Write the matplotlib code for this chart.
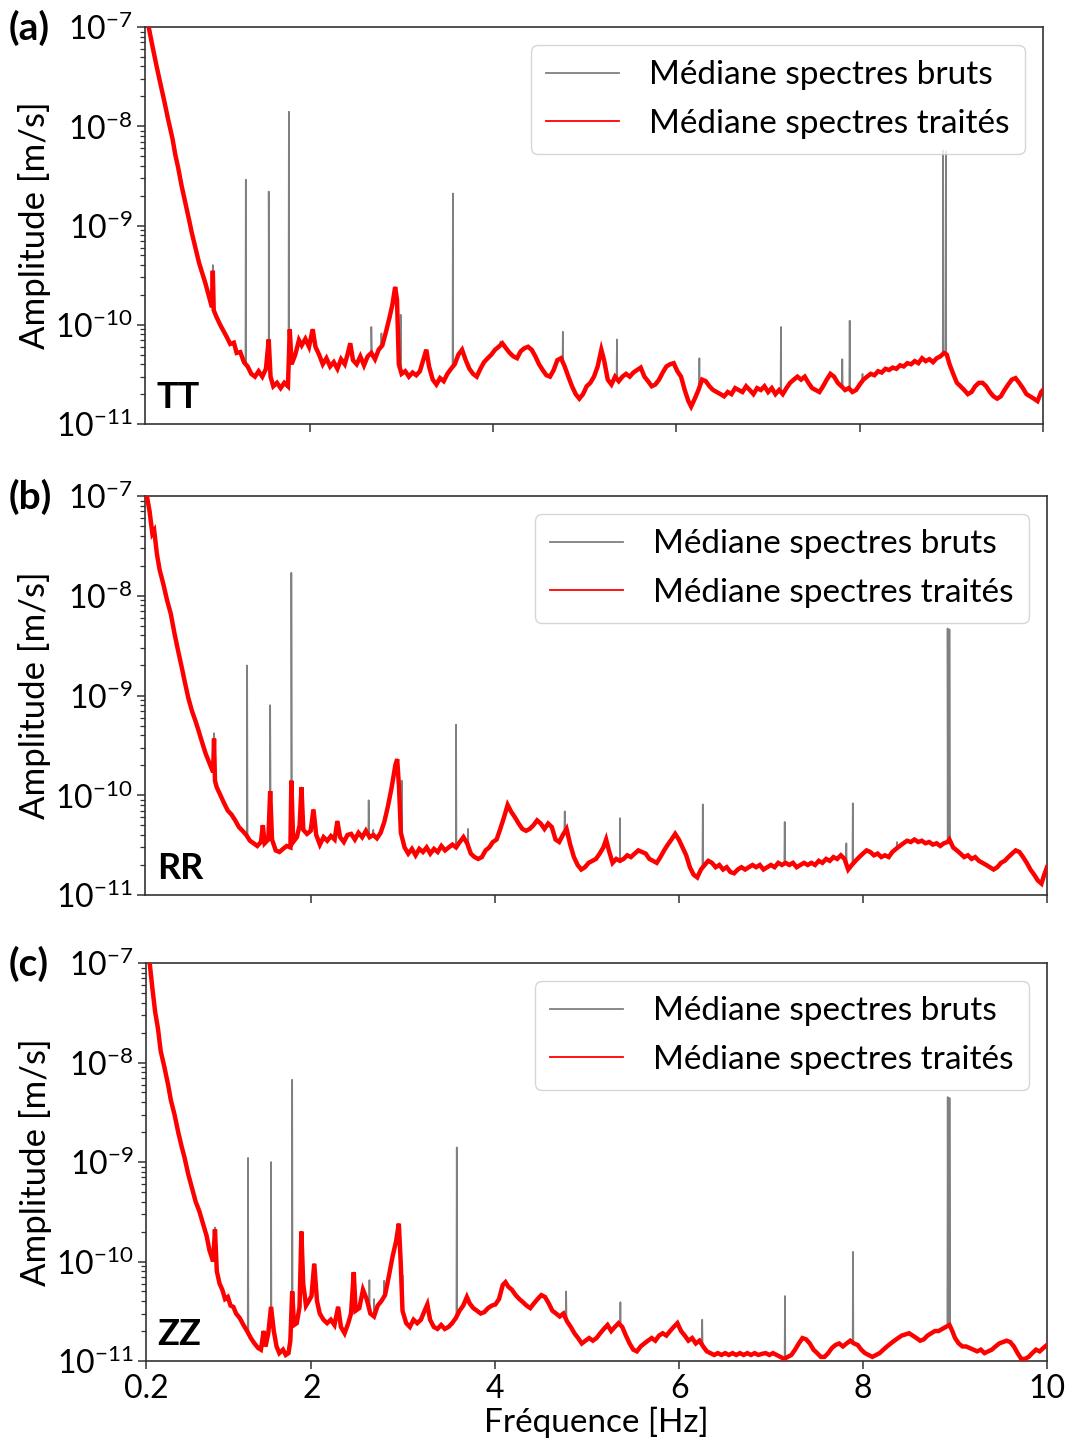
import numpy as np
import matplotlib
matplotlib.use("Agg")
import matplotlib.pyplot as plt

plt.rcParams['font.family'] = ['Lato', 'DejaVu Sans']
plt.rcParams['mathtext.fontset'] = 'custom'
plt.rcParams['mathtext.rm'] = 'Lato'
plt.rcParams['mathtext.it'] = 'Lato:italic'
plt.rcParams['mathtext.bf'] = 'Lato:bold'

UNIT = 1e-11  # amplitudes below are in units of 1e-11 m/s

# ---------------- (a) TT : processed median spectrum (freq Hz, amplitude) ----------------
tt_red = [
    (0.20, 16000), (0.24, 10000), (0.28, 6500), (0.32, 4300), (0.36, 2900), (0.41, 1800),
    (0.45, 1200), (0.50, 750), (0.53, 520), (0.56, 390), (0.60, 250), (0.64, 170),
    (0.68, 115), (0.71, 85), (0.75, 60), (0.79, 42), (0.83, 32), (0.86, 26), (0.90, 19),
    (0.93, 15), (0.94, 35), (0.95, 14), (0.98, 12), (1.02, 10), (1.05, 8.9), (1.09, 7.6),
    (1.13, 6.4), (1.17, 6.6), (1.20, 5.2), (1.24, 5.3), (1.28, 4.2), (1.32, 3.8), (1.36, 3.2),
    (1.40, 3.0), (1.44, 3.4), (1.48, 3.0), (1.52, 3.6), (1.55, 7.1), (1.57, 3.0), (1.60, 2.4),
    (1.64, 2.6), (1.68, 2.3), (1.72, 2.6), (1.76, 2.4), (1.78, 9.0), (1.80, 4.0), (1.84, 5.0),
    (1.88, 7.0), (1.91, 6.2), (1.95, 7.2), (1.99, 6.0), (2.03, 9.0), (2.06, 6.0), (2.10, 5.0),
    (2.14, 4.0), (2.18, 4.6), (2.22, 3.8), (2.26, 4.2), (2.30, 3.6), (2.34, 4.5), (2.38, 4.0),
    (2.41, 5.0), (2.44, 6.5), (2.47, 4.4), (2.51, 4.0), (2.55, 4.8), (2.59, 3.9), (2.63, 4.8),
    (2.67, 5.2), (2.71, 4.5), (2.75, 5.6), (2.79, 6.2), (2.83, 8.5), (2.87, 12), (2.90, 16),
    (2.93, 24), (2.95, 18), (2.97, 4.0), (3.00, 3.2), (3.04, 3.4), (3.08, 3.0), (3.12, 3.3),
    (3.16, 3.1), (3.20, 3.4), (3.24, 4.5), (3.27, 5.6), (3.30, 3.8), (3.34, 2.8), (3.38, 2.5),
    (3.42, 2.9), (3.46, 2.7), (3.50, 3.2), (3.54, 3.6), (3.58, 4.0), (3.62, 5.0), (3.66, 5.6),
    (3.70, 4.4), (3.74, 3.6), (3.78, 3.2), (3.82, 3.0), (3.86, 3.6), (3.90, 4.2), (3.94, 4.6),
    (3.98, 5.0), (4.02, 5.6), (4.06, 6.0), (4.10, 6.5), (4.14, 5.8), (4.18, 5.2), (4.22, 4.8),
    (4.26, 4.6), (4.30, 5.4), (4.34, 5.8), (4.38, 6.0), (4.42, 5.6), (4.46, 4.8), (4.50, 4.0),
    (4.54, 3.5), (4.58, 3.1), (4.62, 3.0), (4.66, 3.5), (4.70, 4.4), (4.74, 4.6), (4.78, 3.8),
    (4.82, 3.0), (4.86, 2.4), (4.90, 2.0), (4.94, 1.8), (4.98, 2.0), (5.02, 2.4), (5.06, 2.6),
    (5.10, 3.0), (5.14, 3.8), (5.18, 5.6), (5.21, 4.4), (5.25, 2.8), (5.29, 2.5), (5.33, 3.0),
    (5.37, 2.7), (5.41, 3.0), (5.45, 3.2), (5.49, 3.0), (5.53, 3.3), (5.57, 3.5), (5.61, 3.7),
    (5.65, 3.0), (5.69, 2.7), (5.73, 2.4), (5.77, 2.5), (5.81, 2.8), (5.85, 3.3), (5.89, 3.8),
    (5.93, 4.0), (5.97, 4.1), (6.01, 3.4), (6.05, 3.0), (6.09, 2.2), (6.13, 1.7), (6.16, 1.5),
    (6.20, 1.8), (6.24, 2.2), (6.28, 2.8), (6.32, 2.7), (6.36, 2.4), (6.40, 2.2), (6.44, 2.1),
    (6.48, 2.0), (6.52, 1.9), (6.56, 2.1), (6.60, 2.0), (6.64, 2.3), (6.68, 2.2), (6.72, 2.1),
    (6.76, 2.4), (6.80, 2.2), (6.84, 2.0), (6.88, 2.3), (6.92, 2.2), (6.96, 2.4), (7.00, 2.1),
    (7.04, 2.3), (7.08, 2.0), (7.12, 2.2), (7.16, 2.0), (7.20, 2.3), (7.24, 2.6), (7.28, 2.8),
    (7.32, 3.0), (7.36, 2.8), (7.40, 3.0), (7.44, 2.6), (7.48, 2.3), (7.52, 2.2), (7.56, 2.1),
    (7.60, 2.4), (7.64, 2.8), (7.68, 3.2), (7.72, 3.0), (7.76, 2.6), (7.80, 2.4), (7.84, 2.2),
    (7.88, 2.3), (7.92, 2.1), (7.96, 2.2), (8.00, 2.5), (8.04, 2.8), (8.08, 3.0), (8.12, 3.2),
    (8.16, 3.1), (8.20, 3.4), (8.24, 3.3), (8.28, 3.6), (8.32, 3.5), (8.36, 3.7), (8.40, 3.6),
    (8.44, 3.9), (8.48, 3.8), (8.52, 4.1), (8.56, 4.0), (8.60, 4.3), (8.64, 4.1), (8.68, 4.6),
    (8.72, 4.3), (8.76, 4.5), (8.80, 4.2), (8.84, 4.6), (8.88, 4.8), (8.92, 5.2), (8.95, 5.0),
    (8.98, 4.0), (9.02, 3.2), (9.06, 2.6), (9.10, 2.4), (9.14, 2.2), (9.18, 2.0), (9.22, 2.1),
    (9.26, 2.4), (9.30, 2.6), (9.34, 2.6), (9.38, 2.4), (9.42, 2.1), (9.46, 1.9), (9.50, 1.8),
    (9.54, 1.9), (9.58, 2.2), (9.62, 2.5), (9.66, 2.8), (9.70, 2.9), (9.74, 2.6), (9.78, 2.3),
    (9.82, 2.0), (9.86, 1.9), (9.90, 1.8), (9.94, 1.7), (9.98, 2.1), (10.0, 2.2),
]
# raw-spectrum spikes (freq Hz, peak amplitude)
tt_spikes = [(0.94, 40), (1.30, 290), (1.55, 220), (1.77, 1400), (2.67, 9.5), (2.78, 8.2),
             (2.99, 12.6), (3.56, 210), (4.08, 6.8), (4.76, 8.5), (5.35, 7.1), (6.25, 4.6),
             (7.14, 9.5), (7.81, 4.5), (7.89, 11), (8.03, 3.2), (8.91, 570), (8.94, 560)]

# ---------------- (b) RR ----------------
rr_red = [
    (0.20, 16000), (0.22, 10000), (0.25, 7000), (0.28, 4200), (0.30, 4500), (0.33, 2600),
    (0.36, 1800), (0.40, 1300), (0.44, 900), (0.48, 660), (0.52, 420), (0.56, 280), (0.60, 190),
    (0.63, 140), (0.67, 95), (0.71, 70), (0.75, 55), (0.78, 45), (0.82, 34), (0.86, 26),
    (0.90, 21), (0.94, 17), (0.95, 37), (0.96, 14), (0.98, 12), (1.02, 10), (1.06, 8.3),
    (1.10, 7.0), (1.14, 6.4), (1.18, 5.6), (1.22, 4.8), (1.26, 4.4), (1.30, 4.0), (1.34, 3.5),
    (1.38, 3.3), (1.42, 3.1), (1.46, 3.4), (1.48, 5.0), (1.50, 3.3), (1.54, 3.6), (1.56, 11),
    (1.58, 3.6), (1.62, 2.8), (1.66, 2.7), (1.70, 2.9), (1.74, 3.1), (1.78, 3.0), (1.79, 14),
    (1.81, 3.4), (1.85, 3.8), (1.88, 5.0), (1.90, 12), (1.92, 4.5), (1.96, 4.1), (2.00, 4.4),
    (2.03, 7.2), (2.06, 4.0), (2.10, 3.2), (2.14, 3.8), (2.18, 3.5), (2.22, 3.9), (2.26, 3.6),
    (2.29, 5.5), (2.32, 3.8), (2.36, 3.4), (2.40, 4.0), (2.44, 4.1), (2.48, 3.6), (2.52, 4.2),
    (2.56, 3.8), (2.60, 4.4), (2.64, 3.8), (2.68, 4.0), (2.72, 3.7), (2.76, 4.2), (2.80, 5.4),
    (2.84, 7.8), (2.88, 12), (2.92, 20), (2.94, 23), (2.96, 12), (2.98, 4.2), (3.02, 3.0),
    (3.06, 2.6), (3.10, 2.9), (3.14, 2.5), (3.18, 2.9), (3.22, 2.7), (3.26, 3.0), (3.30, 2.6),
    (3.34, 2.9), (3.38, 2.7), (3.42, 3.1), (3.46, 2.8), (3.50, 3.0), (3.54, 3.2), (3.58, 3.0),
    (3.62, 3.4), (3.66, 3.8), (3.70, 3.3), (3.74, 2.6), (3.78, 2.4), (3.82, 2.3), (3.86, 2.4),
    (3.90, 2.8), (3.94, 3.0), (3.98, 3.4), (4.02, 3.6), (4.06, 4.6), (4.10, 6.0), (4.14, 8.0),
    (4.18, 6.8), (4.22, 6.0), (4.26, 5.2), (4.30, 4.6), (4.34, 4.4), (4.38, 4.6), (4.42, 5.0),
    (4.46, 5.6), (4.50, 5.2), (4.54, 4.6), (4.58, 5.2), (4.62, 4.8), (4.66, 3.6), (4.70, 3.4),
    (4.74, 4.0), (4.78, 4.6), (4.82, 3.2), (4.86, 2.4), (4.90, 2.0), (4.94, 1.8), (4.98, 1.9),
    (5.02, 2.1), (5.06, 2.2), (5.10, 2.3), (5.14, 2.6), (5.18, 3.0), (5.21, 3.6), (5.24, 2.8),
    (5.28, 2.1), (5.32, 2.3), (5.36, 2.2), (5.40, 2.3), (5.44, 2.5), (5.48, 2.4), (5.52, 2.6),
    (5.56, 2.8), (5.60, 2.7), (5.64, 2.6), (5.68, 2.3), (5.72, 2.2), (5.76, 2.1), (5.80, 2.4),
    (5.84, 2.8), (5.88, 3.2), (5.92, 3.6), (5.96, 4.1), (6.00, 3.6), (6.04, 3.0), (6.08, 2.5),
    (6.12, 1.9), (6.16, 1.6), (6.20, 1.5), (6.24, 1.8), (6.28, 2.0), (6.32, 2.2), (6.36, 2.1),
    (6.40, 1.9), (6.44, 2.0), (6.48, 1.8), (6.52, 1.9), (6.56, 1.7), (6.60, 1.65), (6.64, 1.8),
    (6.68, 1.9), (6.72, 1.8), (6.76, 1.9), (6.80, 2.0), (6.84, 1.9), (6.88, 2.0), (6.92, 1.8),
    (6.96, 1.9), (7.00, 2.0), (7.04, 1.9), (7.08, 2.1), (7.12, 2.0), (7.16, 2.1), (7.20, 2.0),
    (7.24, 2.1), (7.28, 1.9), (7.32, 2.0), (7.36, 2.1), (7.40, 2.0), (7.44, 2.1), (7.48, 2.0),
    (7.52, 2.2), (7.56, 2.1), (7.60, 2.3), (7.64, 2.2), (7.68, 2.4), (7.72, 2.3), (7.76, 2.5),
    (7.80, 2.3), (7.84, 1.8), (7.88, 2.0), (7.92, 2.2), (7.96, 2.4), (8.00, 2.6), (8.04, 2.8),
    (8.08, 2.7), (8.12, 2.5), (8.16, 2.6), (8.20, 2.4), (8.24, 2.5), (8.28, 2.4), (8.32, 2.7),
    (8.36, 2.9), (8.40, 3.1), (8.44, 3.3), (8.48, 3.5), (8.52, 3.4), (8.56, 3.6), (8.60, 3.4),
    (8.64, 3.5), (8.68, 3.3), (8.72, 3.4), (8.76, 3.2), (8.80, 3.3), (8.84, 3.1), (8.88, 3.3),
    (8.92, 3.4), (8.94, 3.6), (8.98, 3.0), (9.02, 2.8), (9.06, 2.6), (9.10, 2.4), (9.14, 2.5),
    (9.18, 2.3), (9.22, 2.4), (9.26, 2.2), (9.30, 2.1), (9.34, 2.0), (9.38, 1.9), (9.42, 1.8),
    (9.46, 1.9), (9.50, 2.1), (9.54, 2.2), (9.58, 2.4), (9.62, 2.6), (9.66, 2.8), (9.70, 2.7),
    (9.74, 2.4), (9.78, 2.1), (9.82, 1.8), (9.86, 1.6), (9.90, 1.4), (9.94, 1.3), (9.97, 1.6),
    (10.0, 1.9),
]
rr_spikes = [(0.95, 42), (1.31, 200), (1.56, 80), (1.79, 1700), (2.63, 8.9), (2.68, 4.5),
             (2.99, 14), (3.58, 51), (3.71, 4.6), (4.76, 6.9), (5.36, 5.9), (6.26, 8.1),
             (7.15, 5.4), (7.82, 3.3), (7.89, 8.3), (8.37, 3.4), (8.92, 470), (8.94, 460)]

# ---------------- (c) ZZ ----------------
zz_red = [
    (0.20, 16000), (0.24, 10000), (0.27, 5500), (0.30, 3200), (0.33, 2200), (0.36, 1300),
    (0.40, 900), (0.44, 600), (0.47, 420), (0.51, 300), (0.55, 200), (0.59, 140), (0.62, 110),
    (0.66, 75), (0.70, 55), (0.74, 40), (0.78, 32), (0.82, 24), (0.86, 18), (0.89, 13),
    (0.93, 10), (0.95, 21), (0.97, 8.0), (1.00, 6.0), (1.03, 5.2), (1.06, 4.2), (1.09, 4.4),
    (1.12, 3.6), (1.15, 3.5), (1.18, 3.0), (1.22, 2.7), (1.26, 2.3), (1.30, 2.0), (1.34, 1.7),
    (1.38, 1.5), (1.42, 1.35), (1.45, 1.3), (1.48, 2.0), (1.50, 1.4), (1.53, 1.9), (1.56, 3.5),
    (1.59, 2.0), (1.62, 1.4), (1.65, 1.2), (1.69, 1.3), (1.72, 1.15), (1.75, 1.2), (1.77, 1.6),
    (1.79, 5.0), (1.81, 2.3), (1.84, 2.4), (1.87, 3.5), (1.89, 20), (1.91, 6.0), (1.94, 3.6),
    (1.97, 4.0), (2.00, 4.5), (2.03, 9.5), (2.06, 4.0), (2.09, 3.0), (2.13, 2.6), (2.17, 2.4),
    (2.21, 2.6), (2.25, 2.3), (2.29, 3.5), (2.32, 2.2), (2.36, 1.9), (2.40, 2.4), (2.43, 3.0),
    (2.46, 7.8), (2.48, 3.2), (2.52, 3.4), (2.56, 5.2), (2.60, 4.2), (2.64, 3.0), (2.68, 2.8),
    (2.72, 3.6), (2.76, 4.0), (2.80, 4.6), (2.84, 7.0), (2.88, 11), (2.92, 16), (2.95, 24),
    (2.97, 10), (2.99, 3.2), (3.03, 2.4), (3.07, 2.2), (3.11, 2.6), (3.15, 2.4), (3.19, 2.6),
    (3.23, 3.2), (3.26, 3.7), (3.29, 2.6), (3.33, 2.2), (3.37, 2.1), (3.41, 2.3), (3.45, 2.1),
    (3.49, 2.2), (3.53, 2.4), (3.57, 2.7), (3.61, 3.2), (3.65, 3.6), (3.69, 4.4), (3.72, 3.8),
    (3.76, 3.4), (3.80, 3.2), (3.84, 3.0), (3.88, 3.1), (3.92, 3.4), (3.96, 3.6), (4.00, 3.7),
    (4.04, 4.2), (4.08, 5.8), (4.11, 6.2), (4.14, 5.6), (4.18, 5.2), (4.22, 4.6), (4.26, 4.2),
    (4.30, 3.9), (4.34, 3.6), (4.38, 3.4), (4.42, 3.8), (4.46, 4.2), (4.50, 4.6), (4.54, 4.4),
    (4.58, 3.8), (4.62, 3.2), (4.66, 3.0), (4.70, 2.8), (4.74, 3.0), (4.78, 2.5), (4.82, 2.2),
    (4.86, 1.9), (4.90, 1.7), (4.94, 1.5), (4.98, 1.6), (5.02, 1.7), (5.06, 1.6), (5.10, 1.7),
    (5.14, 1.9), (5.18, 2.1), (5.22, 2.3), (5.26, 2.0), (5.30, 2.2), (5.34, 2.4), (5.38, 2.2),
    (5.42, 1.8), (5.46, 1.5), (5.50, 1.3), (5.54, 1.25), (5.58, 1.4), (5.62, 1.5), (5.66, 1.6),
    (5.70, 1.7), (5.74, 1.6), (5.78, 1.8), (5.82, 1.9), (5.86, 1.8), (5.90, 2.0), (5.94, 2.2),
    (5.98, 2.4), (6.02, 2.0), (6.06, 1.8), (6.10, 1.6), (6.14, 1.7), (6.18, 1.5), (6.22, 1.6),
    (6.26, 1.4), (6.30, 1.25), (6.34, 1.2), (6.38, 1.15), (6.42, 1.2), (6.46, 1.15), (6.50, 1.2),
    (6.54, 1.15), (6.58, 1.2), (6.62, 1.15), (6.66, 1.2), (6.70, 1.15), (6.74, 1.2), (6.78, 1.15),
    (6.82, 1.2), (6.86, 1.15), (6.90, 1.18), (6.94, 1.2), (6.98, 1.15), (7.02, 1.2), (7.06, 1.15),
    (7.10, 1.1), (7.14, 1.05), (7.18, 1.1), (7.22, 1.15), (7.26, 1.3), (7.30, 1.5), (7.34, 1.7),
    (7.38, 1.65), (7.42, 1.5), (7.46, 1.3), (7.50, 1.2), (7.54, 1.1), (7.58, 1.1), (7.62, 1.2),
    (7.66, 1.35), (7.70, 1.45), (7.74, 1.5), (7.78, 1.4), (7.82, 1.5), (7.86, 1.6), (7.90, 1.5),
    (7.94, 1.45), (7.98, 1.3), (8.02, 1.2), (8.06, 1.15), (8.10, 1.1), (8.14, 1.15), (8.18, 1.2),
    (8.22, 1.3), (8.26, 1.4), (8.30, 1.5), (8.34, 1.6), (8.38, 1.7), (8.42, 1.8), (8.46, 1.85),
    (8.50, 1.9), (8.54, 1.8), (8.58, 1.7), (8.62, 1.6), (8.66, 1.65), (8.70, 1.8), (8.74, 1.9),
    (8.78, 2.0), (8.82, 2.0), (8.86, 2.1), (8.90, 2.2), (8.94, 2.3), (8.97, 2.0), (9.00, 1.7),
    (9.04, 1.5), (9.08, 1.4), (9.12, 1.4), (9.16, 1.35), (9.20, 1.3), (9.24, 1.25), (9.28, 1.3),
    (9.32, 1.2), (9.36, 1.25), (9.40, 1.3), (9.44, 1.4), (9.48, 1.5), (9.52, 1.55), (9.56, 1.6),
    (9.60, 1.55), (9.64, 1.4), (9.68, 1.2), (9.72, 1.05), (9.76, 1.05), (9.80, 1.1), (9.84, 1.2),
    (9.88, 1.3), (9.92, 1.25), (9.96, 1.35), (10.0, 1.45),
]
zz_spikes = [(0.95, 22), (1.31, 110), (1.56, 100), (1.79, 670), (2.63, 6.5), (2.68, 4.2),
             (2.79, 6.4), (2.99, 7.3), (3.58, 140), (4.77, 5.0), (5.36, 3.9), (6.25, 2.6),
             (7.15, 4.5), (7.89, 12.5), (8.92, 450), (8.94, 440)]

panel_letters = ['(a)', '(b)', '(c)']
components = ['TT', 'RR', 'ZZ']
legend_labels = ['Médiane spectres bruts', 'Médiane spectres traités']
xlabel = 'Fréquence [Hz]'
ylabel = 'Amplitude [m/s]'

RED = '#ff0000'
GRAY = '#808080'
FS_TICK = 23
FS_LAB = 25
FS_LEG = 24


def raw_series(red, spikes):
    f = np.array([p[0] for p in red])
    a = np.array([p[1] for p in red]) * UNIT
    sf = np.array([s[0] for s in spikes])
    sa = np.array([s[1] for s in spikes]) * UNIT
    base = 10 ** np.interp(sf, f, np.log10(a))
    ff = np.concatenate([f, sf - 0.004, sf, sf + 0.004])
    aa = np.concatenate([a, base, sa, base])
    o = np.argsort(ff, kind='stable')
    return f, a, ff[o], aa[o]


fig = plt.figure(figsize=(10.7, 14.43), dpi=100)
W, H = 1070, 1443
boxes = [(145, 27, 1043, 424), (145, 496, 1047, 895), (146, 963, 1047, 1361)]
datasets = [(tt_red, tt_spikes), (rr_red, rr_spikes), (zz_red, zz_spikes)]

for i, ((l, t, r, b), (red, spikes)) in enumerate(zip(boxes, datasets)):
    ax = fig.add_axes([l / W, 1 - b / H, (r - l) / W, (b - t) / H])
    f, a, gf, ga = raw_series(red, spikes)
    ax.plot(gf, ga, color=GRAY, lw=1.2, label=legend_labels[0], zorder=2)
    ax.plot(f, a, color=RED, lw=3.2, label=legend_labels[1], zorder=3,
            solid_joinstyle='miter')
    ax.set_yscale('log')
    ax.set_ylim(1e-11, 1e-7)
    ax.set_xlim(0.2, 10)
    if i == 2:
        ax.set_xticks([0.2, 2, 4, 6, 8, 10])
        ax.set_xticklabels(['0.2', '2', '4', '6', '8', '10'])
        ax.set_xlabel(xlabel, fontsize=FS_LAB - 1, labelpad=2)
    else:
        ax.set_xticks([2, 4, 6, 8, 10])
        ax.tick_params(axis='x', labelbottom=False)
    ax.set_ylabel(ylabel, fontsize=FS_LAB, labelpad=3)
    ax.tick_params(axis='both', which='major', labelsize=FS_TICK, length=6, width=1.1,
                   direction='out', color='#333333', pad=3)
    ax.tick_params(axis='y', which='minor', length=3.5, width=0.9, color='#333333')
    for s in ax.spines.values():
        s.set_color('#333333')
        s.set_linewidth(1.2)
    leg = ax.legend(loc='upper right', fontsize=FS_LEG, handlelength=2.2, handletextpad=0.9,
                    borderaxespad=0.55, labelspacing=0.55, borderpad=0.45)
    for ln in leg.get_lines():
        ln.set_linewidth(1.3)
    ax.text(0.013, 0.025, components[i], transform=ax.transAxes, fontsize=26,
            fontweight='bold', ha='left', va='bottom')
    fig.text(9 / W, 1 - (t + 1) / H, panel_letters[i], fontsize=28, fontweight='bold',
             ha='left', va='center')

fig.savefig('out.png', dpi=100)
